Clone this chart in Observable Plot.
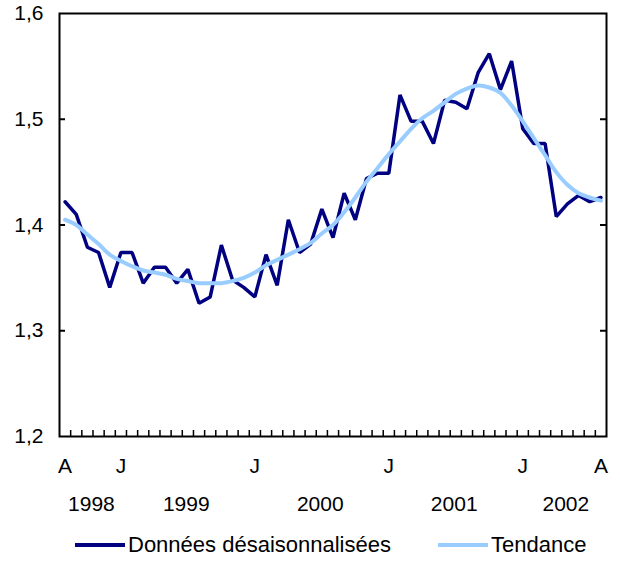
<!DOCTYPE html>
<html>
<head>
<meta charset="utf-8">
<script src="https://cdn.jsdelivr.net/npm/d3@7"></script>
<script src="https://cdn.jsdelivr.net/npm/@observablehq/plot@0.6"></script>
<style>
  body { margin: 0; background: white; }
  #wrap { position: relative; width: 620px; height: 575px; font-family: "Liberation Sans", Arial, sans-serif; }
  .item { position: absolute; top: 532px; display: flex; align-items: center; font-size: 22px; color: #000; white-space: nowrap; }
  .sw { width: 50px; height: 4px; margin-right: 3px; }
</style>
</head>
<body>
<div id="wrap"><div id="chart"></div>
  <div class="item" style="left:75px"><div class="sw" style="background:#000080"></div><span>Données désaisonnalisées</span></div>
  <div class="item" style="left:438px"><div class="sw" style="background:#99ccff"></div><span>Tendance</span></div>
</div>
<script>
// Monthly values, August 1998 to August 2002
const seasonal = [1.422,1.410,1.379,1.374,1.341,1.374,1.374,1.345,1.360,1.360,1.345,1.358,
  1.326,1.332,1.381,1.348,1.341,1.332,1.372,1.343,1.405,1.374,1.382,1.415,
  1.388,1.430,1.405,1.444,1.449,1.449,1.523,1.498,1.498,1.477,1.518,1.516,
  1.510,1.544,1.562,1.528,1.555,1.491,1.477,1.477,1.408,1.420,1.428,1.422,1.426];
const trend = [1.405,1.400,1.391,1.382,1.372,1.366,1.361,1.357,1.355,1.353,1.349,1.347,
  1.345,1.345,1.345,1.347,1.350,1.355,1.362,1.367,1.372,1.377,1.383,1.392,
  1.400,1.412,1.426,1.441,1.454,1.467,1.479,1.491,1.501,1.508,1.516,1.524,
  1.529,1.532,1.530,1.525,1.513,1.498,1.482,1.466,1.450,1.438,1.430,1.426,1.423];
const yTicks = [1.2, 1.3, 1.4, 1.5, 1.6];
const monthTickAt = ["1998-08","1999-01","2000-01","2001-01","2002-01","2002-08"];
const monthTickText = ["A","J","J","J","J","A"];
const years = [1998, 1999, 2000, 2001, 2002];

const months = d3.utcMonth.range(new Date(Date.UTC(1998,7,1)), new Date(Date.UTC(2002,8,1)));
const ym = d3.utcFormat("%Y-%m");
const data = months.map((d, i) => ({i, date: d, seasonal: seasonal[i], trend: trend[i]}));
const monthLabels = monthTickAt.map((s, k) => ({i: months.findIndex(d => ym(d) === s), text: monthTickText[k]}));
const yearLabels = years.map(y => ({i: d3.mean(data.filter(d => d.date.getUTCFullYear() === y), d => d.i), text: String(y)}));
const between = d3.range(1, months.length).map(k => k - 0.5);
const fmt = d => d.toFixed(1).replace(".", ",");

const W = 620, H = 520, mL = 59, mR = 14, mT = 13, mB = 84;
const pw = W - mL - mR, ph = H - mT - mB;
const FS = 21;

const chart = Plot.plot({
  width: W, height: H, marginLeft: mL, marginRight: mR, marginTop: mT, marginBottom: mB,
  x: {domain: [-0.5, months.length - 0.5], axis: null},
  y: {domain: [1.2, 1.6], axis: null},
  style: {fontFamily: "'Liberation Sans', Arial, sans-serif", fontSize: FS + "px", background: "white", color: "black"},
  marks: [
    Plot.tickY(yTicks.slice(1, -1), {y: d => d, insetRight: pw - 6, stroke: "black", strokeWidth: 2}),
    Plot.tickY(yTicks.slice(1, -1), {y: d => d, insetLeft: pw - 6, stroke: "black", strokeWidth: 2}),
    Plot.tickX(between, {x: d => d, insetTop: ph - 6, stroke: "black", strokeWidth: 1.5}),
    Plot.text(yTicks, {x: -0.5, y: d => d, text: fmt, textAnchor: "end", dx: -16, fontSize: FS, fill: "black"}),
    Plot.text(monthLabels, {x: "i", y: 1.2, text: "text", dy: 30, fontSize: FS, fill: "black"}),
    Plot.text(yearLabels, {x: "i", y: 1.2, text: "text", dy: 68, dx: 4, fontSize: FS, fill: "black"}),
    Plot.line(data, {x: "i", y: "seasonal", stroke: "#000080", strokeWidth: 3.5, strokeLinejoin: "miter"}),
    Plot.line(data, {x: "i", y: "trend", stroke: "#99ccff", strokeWidth: 4, curve: "catmull-rom"}),
    Plot.frame({stroke: "black", strokeWidth: 2})
  ]
});
document.getElementById("chart").appendChild(chart);
</script>
</body>
</html>
